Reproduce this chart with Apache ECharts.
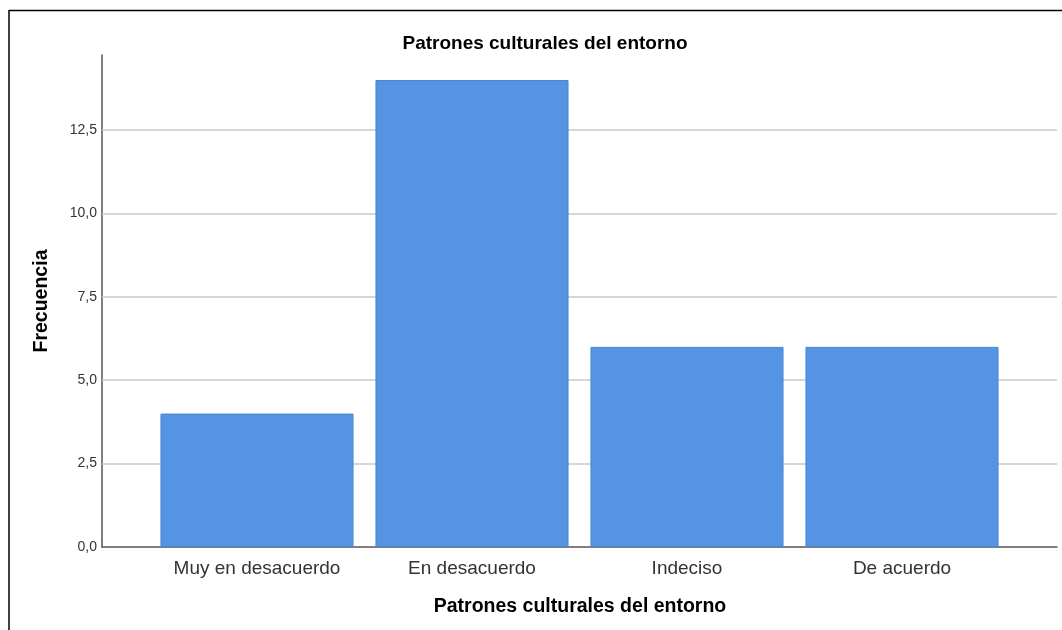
<!DOCTYPE html>
<html>
<head>
<meta charset="utf-8">
<script src="https://cdn.jsdelivr.net/npm/echarts@6/dist/echarts.min.js"></script>
<style>
html,body{margin:0;padding:0;background:#fff;}
#chart{width:1062px;height:630px;}
</style>
</head>
<body>
<div id="chart"></div>
<script>
const chartTitle = "Patrones culturales del entorno";
const categories = ["Muy en desacuerdo", "En desacuerdo", "Indeciso", "De acuerdo"];
const frequencies = [4, 14, 6, 6];
const yTicks = [0, 2.5, 5, 7.5, 10, 12.5];
const yAxisName = "Frecuencia";
const xAxisName = "Patrones culturales del entorno";

const FONT = "Liberation Sans, Arial, sans-serif";
const yMax = 14.75;

const chart = echarts.init(document.getElementById('chart'), null, {renderer: 'canvas'});
chart.setOption({
  animation: false,
  backgroundColor: '#fff',
  title: {
    text: chartTitle, left: 540, top: 29, textAlign: 'center',
    textStyle: {fontFamily: FONT, fontSize: 19, fontWeight: 'bold', color: '#000'}
  },
  graphic: [
    {type: 'line', shape: {x1: 9, y1: 10.5, x2: 1062, y2: 10.5}, style: {stroke: '#000', lineWidth: 1.5}},
    {type: 'line', shape: {x1: 9, y1: 10, x2: 9, y2: 630}, style: {stroke: '#000', lineWidth: 1.5}},
    {type: 'text', x: 580, y: 607, style: {text: xAxisName, font: 'bold 19.5px ' + FONT, fill: '#000', align: 'center', verticalAlign: 'middle'}},
    {type: 'text', x: 42, y: 301, rotation: Math.PI / 2, style: {text: yAxisName, font: 'bold 19.5px ' + FONT, fill: '#000', align: 'center', verticalAlign: 'middle'}}
  ],
  grid: [
    {left: 102, right: 5, top: 55, bottom: 83, containLabel: false},
    {left: 149.5, right: 52.5, top: 55, bottom: 83, containLabel: false}
  ],
  xAxis: [
    {
      gridIndex: 0, type: 'category', data: categories, boundaryGap: true,
      axisLine: {show: true, lineStyle: {color: '#555', width: 1.5}},
      axisTick: {show: false}, axisLabel: {show: false}, splitLine: {show: false}
    },
    {
      gridIndex: 1, type: 'category', data: categories, boundaryGap: true,
      axisLine: {show: false}, axisTick: {show: false}, splitLine: {show: false},
      axisLabel: {show: true, interval: 0, hideOverlap: false, margin: 12, fontFamily: FONT, fontSize: 19, color: '#333'}
    }
  ],
  yAxis: [
    {
      gridIndex: 0, type: 'value', min: 0, max: yMax, interval: 2.5,
      axisLine: {show: true, lineStyle: {color: '#555', width: 1.5}},
      axisTick: {show: false},
      axisLabel: {
        show: true, margin: 5, fontFamily: FONT, fontSize: 14, color: '#333',
        formatter: function (v) {
          if (yTicks.indexOf(v) < 0) return '';
          return v.toFixed(1).replace('.', ',');
        }
      },
      splitLine: {show: false}
    },
    {
      gridIndex: 1, type: 'value', min: 0, max: yMax, interval: 2.5,
      axisLine: {show: false}, axisTick: {show: false}, axisLabel: {show: false}, splitLine: {show: false}
    }
  ],
  series: [
    {
      type: 'line', xAxisIndex: 0, yAxisIndex: 0, data: [], silent: true, z: 1,
      markLine: {
        silent: true, symbol: 'none', label: {show: false}, z: 1,
        lineStyle: {color: '#c8c8c8', width: 1.5, type: 'solid'},
        data: yTicks.filter(t => t > 0).map(t => ({yAxis: t}))
      }
    },
    {
      type: 'bar', xAxisIndex: 1, yAxisIndex: 1, data: frequencies,
      barCategoryGap: '10.2%',
      itemStyle: {color: '#5594e3', borderColor: '#4a86d8', borderWidth: 1},
      z: 3
    }
  ]
});
</script>
</body>
</html>
